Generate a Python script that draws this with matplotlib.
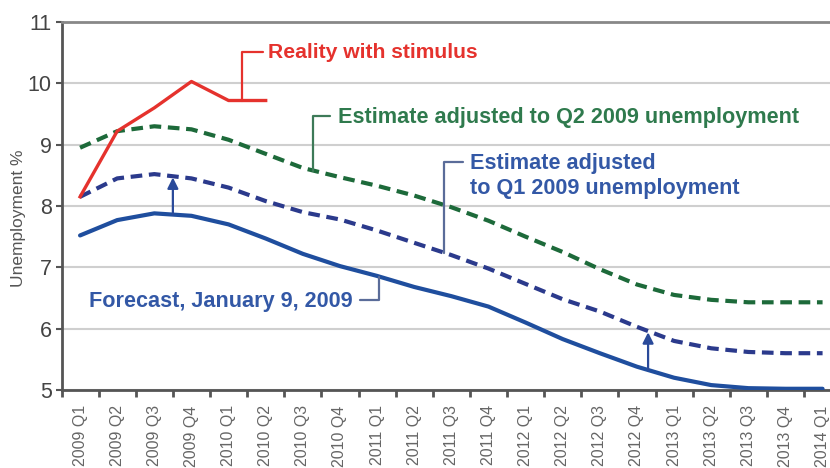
import matplotlib
matplotlib.use('Agg')
import matplotlib.pyplot as plt
import numpy as np

plt.rcParams['font.family'] = ['Liberation Sans', 'DejaVu Sans']

# data (unemployment %, quarterly)
quarters = ['2009 Q1', '2009 Q2', '2009 Q3', '2009 Q4', '2010 Q1', '2010 Q2', '2010 Q3',
            '2010 Q4', '2011 Q1', '2011 Q2', '2011 Q3', '2011 Q4', '2012 Q1', '2012 Q2',
            '2012 Q3', '2012 Q4', '2013 Q1', '2013 Q2', '2013 Q3', '2013 Q4', '2014 Q1']
forecast = [7.52, 7.77, 7.88, 7.84, 7.70, 7.47, 7.22, 7.02, 6.86, 6.68, 6.53,
            6.36, 6.10, 5.83, 5.60, 5.38, 5.20, 5.08, 5.03, 5.02, 5.02]
adj_q1 = [8.15, 8.45, 8.52, 8.45, 8.30, 8.08, 7.90, 7.78, 7.60, 7.40, 7.20,
          6.98, 6.73, 6.48, 6.28, 6.03, 5.80, 5.68, 5.62, 5.60, 5.60]
adj_q2 = [8.95, 9.22, 9.30, 9.25, 9.08, 8.85, 8.62, 8.47, 8.33, 8.17, 7.98,
          7.76, 7.50, 7.25, 6.97, 6.72, 6.55, 6.47, 6.43, 6.43, 6.43]
reality = [8.15, 9.22, 9.60, 10.03, 9.72, 9.72]

C_RED = '#e5322d'
C_GREEN = '#1d6a3a'
C_GREEN_TXT = '#2f7a4d'
C_BLUE = '#1f4e9e'
C_NAVY = '#2b3a8c'
C_BLUE_TXT = '#3358a6'
C_BRACKET = '#5a6c99'
FS = 15.6

fig = plt.figure(figsize=(8.3, 4.68), dpi=100)
ax = fig.add_axes([61.5 / 830, 78 / 468, 1 - 61.5 / 830, 368 / 468])

x = np.arange(len(quarters))
xr = np.arange(len(reality))

ax.plot(x, adj_q2, color=C_GREEN, lw=3, linestyle=(0, (2.8, 1.6)), zorder=3)
ax.plot(x, adj_q1, color=C_NAVY, lw=3, linestyle=(0, (2.8, 1.6)), zorder=3)
ax.plot(x, forecast, color=C_BLUE, lw=3, solid_capstyle='round', zorder=4)
ax.plot(xr, reality, color=C_RED, lw=2.4, zorder=5)

# arrows from forecast up to adjusted estimate
for xa in (2.5, 15.3):
    y0 = np.interp(xa, x, forecast)
    y1 = np.interp(xa, x, adj_q1)
    ax.annotate('', xy=(xa, y1 - 0.02), xytext=(xa, y0),
                arrowprops=dict(arrowstyle='-|>', color='#2a4a9a', lw=1.6,
                                mutation_scale=16, shrinkA=0, shrinkB=0), zorder=6)

# bracket callouts
def bracket(xp, series, xs, xend, ytop, color):
    yv = np.interp(xp, xs, series)
    ax.annotate('', xy=(xp, yv), xytext=(xend, ytop),
                arrowprops=dict(arrowstyle='-', color=color, lw=1.6,
                                connectionstyle='angle,angleA=0,angleB=90,rad=0',
                                shrinkA=0, shrinkB=0), zorder=6)

bracket(4.37, reality, xr, 4.93, 10.51, C_RED)
ax.text(5.07, 10.51, 'Reality with stimulus', color=C_RED, fontsize=FS - 0.4,
        fontweight='bold', va='center', ha='left')

bracket(6.28, adj_q2, x, 6.74, 9.47, '#3d7a58')
ax.text(6.95, 9.45, 'Estimate adjusted to Q2 2009 unemployment', color=C_GREEN_TXT,
        fontsize=FS, fontweight='bold', va='center', ha='left')

bracket(9.81, adj_q1, x, 10.32, 8.72, C_BRACKET)
ax.text(10.51, 8.49, 'Estimate adjusted\nto Q1 2009 unemployment', color=C_BLUE_TXT,
        fontsize=FS, fontweight='bold', va='center', ha='left', linespacing=1.25)

bracket(8.06, forecast, x, 7.55, 6.47, C_BRACKET)
ax.text(7.33, 6.44, 'Forecast, January 9, 2009', color=C_BLUE_TXT,
        fontsize=FS, fontweight='bold', va='center', ha='right')

# axes styling
ax.set_xlim(-0.5, 20.2)
ax.set_ylim(5, 11)
ax.set_yticks(range(5, 12))
ax.set_xticks(x)
ax.set_xticklabels(quarters, rotation=90, fontsize=11.5, color='#666')
ax.set_xticks(np.arange(-0.5, 20.5, 1), minor=True)
ax.tick_params(axis='x', which='major', length=0, pad=11)
ax.tick_params(axis='x', which='minor', length=5, width=2, color='#555')
ax.tick_params(axis='y', length=4, width=1.5, color='#555', labelsize=15.5,
               labelcolor='#444', pad=3)
ax.yaxis.grid(True, color='#cfcfcf', lw=1.5, zorder=0)
ax.set_axisbelow(True)

for side in ('left', 'bottom'):
    ax.spines[side].set_color('#555')
    ax.spines[side].set_linewidth(2)
ax.spines['top'].set_color('#888')
ax.spines['top'].set_linewidth(2)
ax.spines['right'].set_visible(False)

fig.text(18 / 830, 1 - 218 / 468, 'Unemployment %', rotation=90, fontsize=12.5,
         color='#555', ha='center', va='center')

fig.savefig('out.png', dpi=100)
plt.close(fig)
